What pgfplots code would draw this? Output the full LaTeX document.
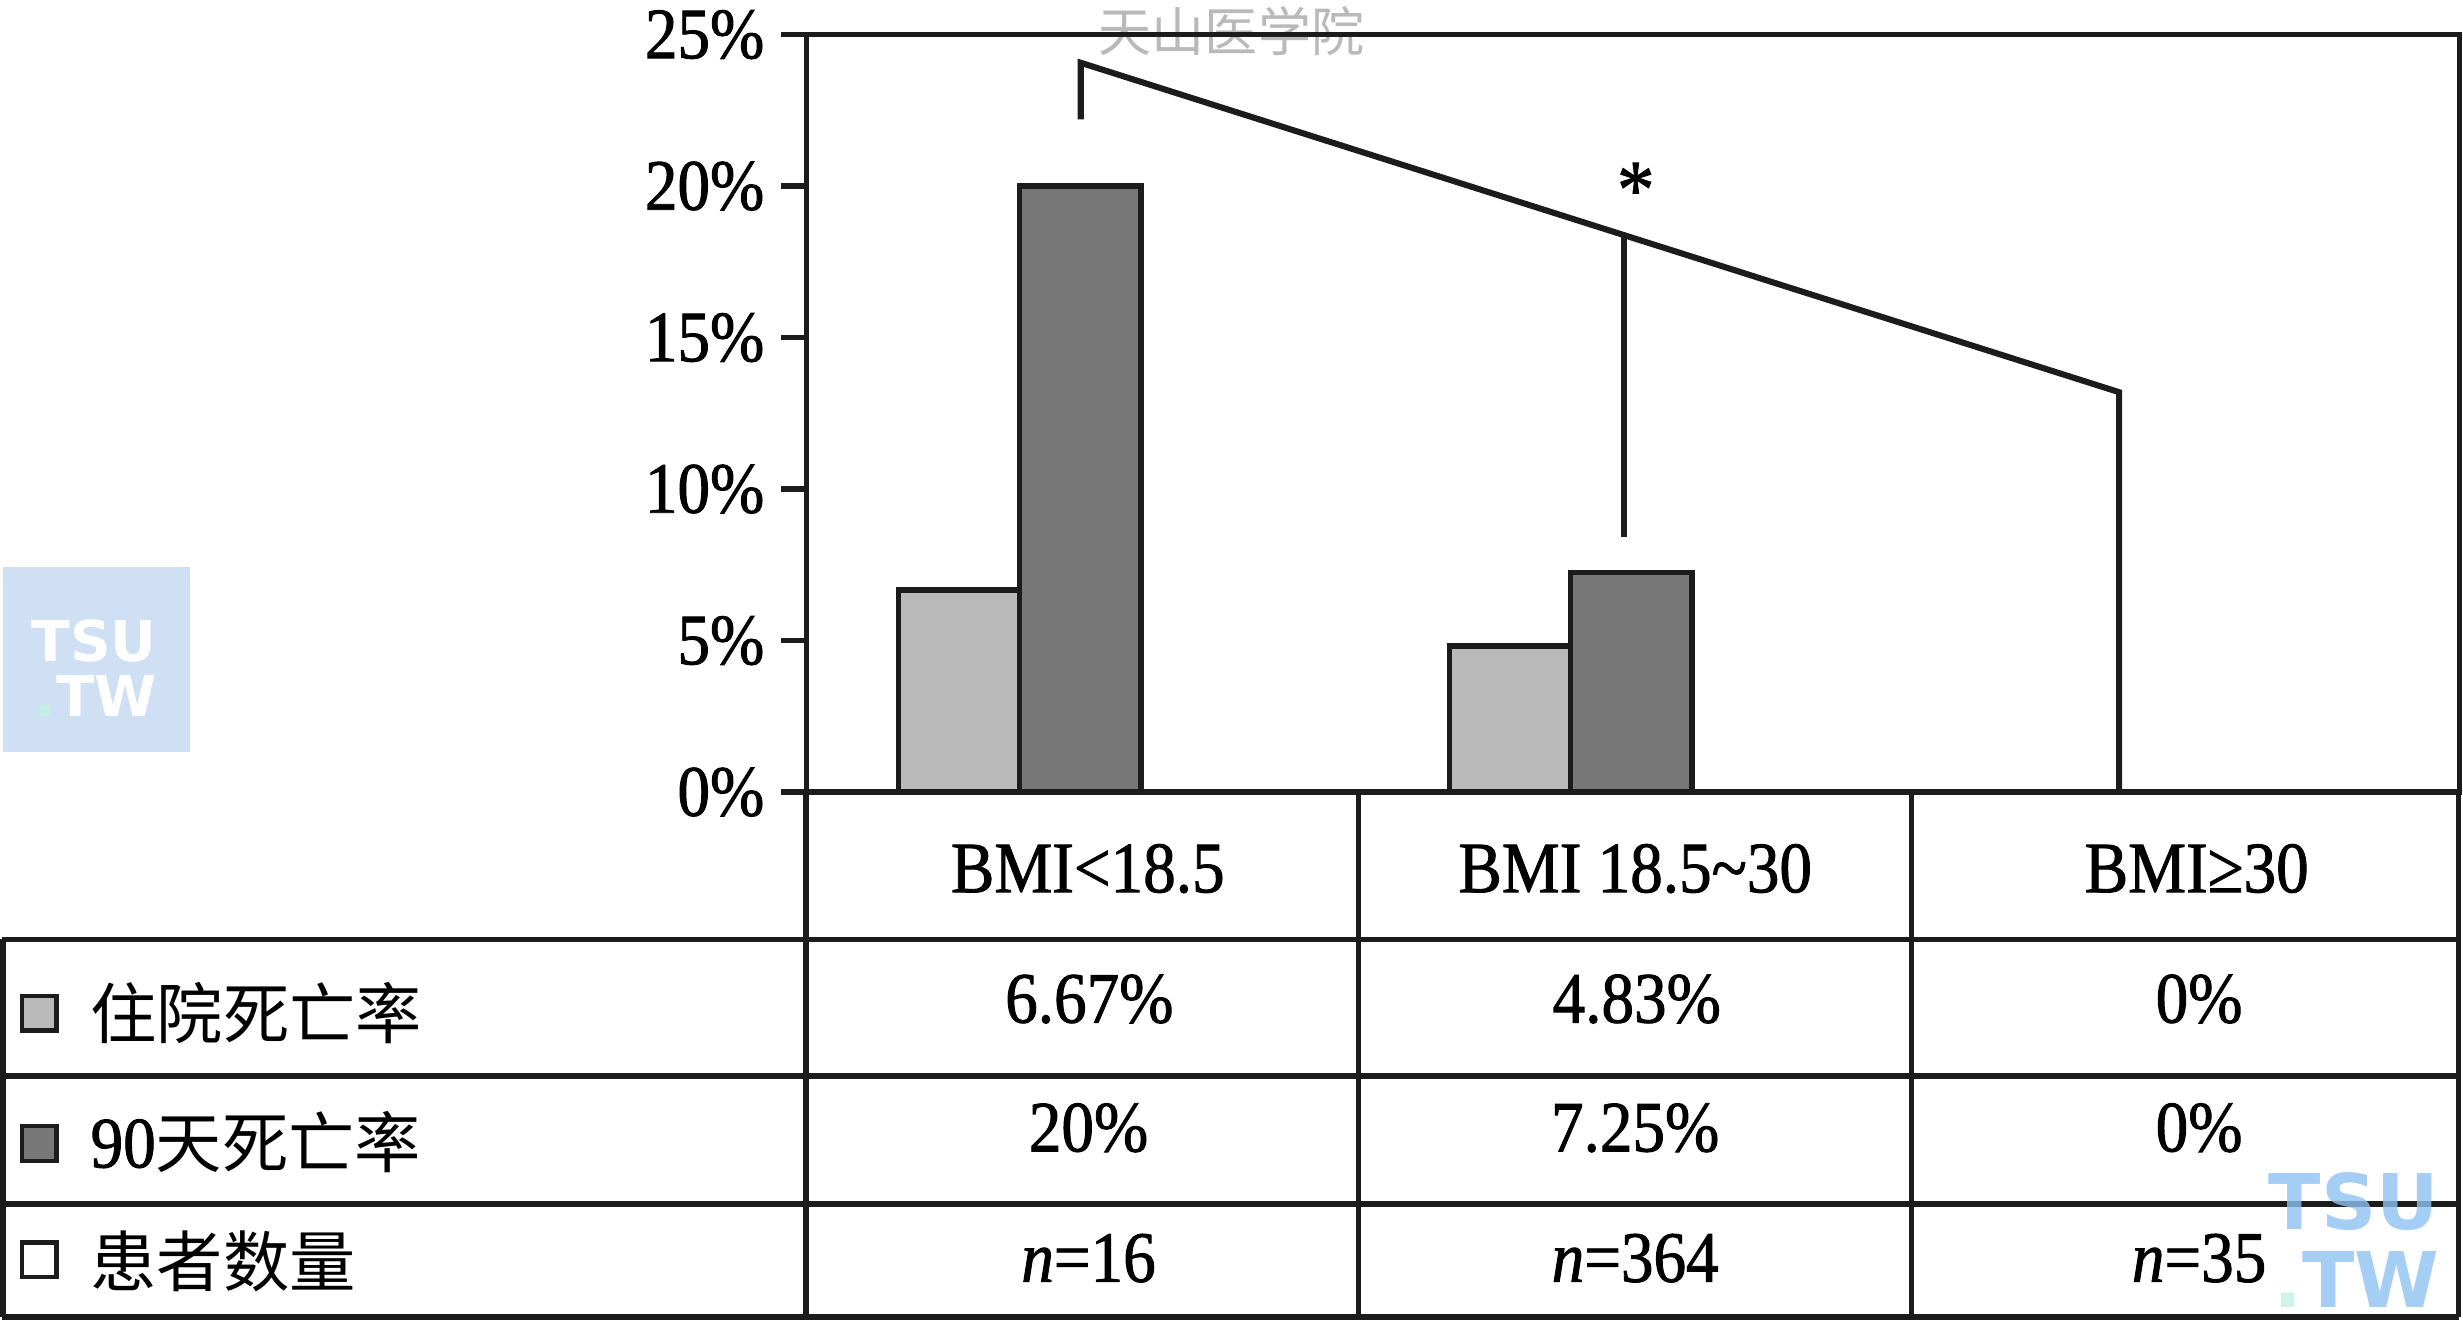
\documentclass[border=0pt]{standalone}
\usepackage{pgfplots}
\pgfplotsset{compat=1.18}
\usepackage{fontspec}
\setmainfont{Liberation Serif}[FakeStretch=0.9, FakeBold=1.2]
\newfontfamily\cjk{Noto Sans CJK SC}
\newfontfamily\logofont{DejaVu Sans}
\definecolor{lightbar}{HTML}{BABABA}
\definecolor{darkbar}{HTML}{787878}
\definecolor{ln}{HTML}{1C1C1C}
\definecolor{logobg}{HTML}{CFE0F5}
\definecolor{logoblue}{HTML}{8EC2F2}
\definecolor{logodot}{HTML}{C4F0E4}
\newcommand{\tf}{\fontsize{13.1}{15}\selectfont}
\newcommand{\cf}{\cjk\fontsize{12}{14}\selectfont}

\begin{document}
\begin{tikzpicture}[x=0.01cm, y=-0.01cm]
\useasboundingbox (0,0) rectangle (1568,841);
% left logo
\fill[logobg] (2,361) rectangle (121,479);
\node[font=\logofont\bfseries\fontsize{10.2}{12}\selectfont, text=white, inner sep=0] at (60,408) {TSU};
\node[font=\logofont\bfseries\fontsize{10.2}{12}\selectfont, text=white, inner sep=0] at (61,443) {{\color{logodot}.}TW};
% watermark
\node[font=\cjk\fontsize{9.6}{11}\selectfont, text=gray!55, inner sep=0] at (784,20) {天山医学院};

\begin{axis}[
  at={(5.13cm,-5.04cm)}, anchor=south west,
  scale only axis, width=10.52cm, height=4.82cm,
  xmin=0, xmax=3, ymin=0, ymax=25,
  axis line style={ln, line width=1pt},
  xtick=\empty,
  ytick={0,5,10,15,20,25},
  yticklabels={0\%,5\%,10\%,15\%,20\%,25\%},
  ytick pos=left,
  tick align=outside,
  major tick length=0.16cm,
  tick style={ln, line width=1pt},
  yticklabel style={font=\tf, inner sep=0pt, xshift=-0.1cm},
  clip=false, axis on top,
]
\addplot[ybar, bar width=0.22, bar shift=0pt, fill=lightbar, draw=ln, line width=1pt]
  coordinates {(0.277,6.67) (1.277,4.83) (2.277,0)};
\addplot[ybar, bar width=0.22, bar shift=0pt, fill=darkbar, draw=ln, line width=1pt]
  coordinates {(0.497,20) (1.497,7.25) (2.497,0)};
\draw[ln, line width=1.1pt] (axis cs:0.498,22.2) -- (axis cs:0.498,24.07) -- (axis cs:2.382,13.2) -- (axis cs:2.382,0);
\draw[ln, line width=1.1pt] (axis cs:1.483,18.39) -- (axis cs:1.483,8.41);
\node[font=\tf, anchor=north, inner sep=0pt] at (axis cs:1.505,20.8) {\fontsize{15}{15}\selectfont *};
\end{axis}

% table
\begin{scope}[ln, line width=1pt]
\draw (513,504) -- (513,838.5);
\draw (1565,504) -- (1565,838.5);
\draw (865,504) -- (865,838.5);
\draw (1217,504) -- (1217,838.5);
\draw (2,598) -- (2,838.5);
\draw (1.5,598) -- (1565.5,598);
\draw (1.5,685) -- (1565.5,685);
\draw (1.5,766.5) -- (1565.5,766.5);
\draw (1.5,838.5) -- (1565.5,838.5);
\end{scope}

\node[font=\tf, anchor=base, inner sep=0] at (692.5,568) {BMI\textless18.5};
\node[font=\tf, anchor=base, inner sep=0] at (1041,568) {BMI 18.5\textasciitilde30};
\node[font=\tf, anchor=base, inner sep=0] at (1398.5,568) {BMI≥30};

\node[font=\tf, anchor=base, inner sep=0] at (693.5,651) {6.67\%};
\node[font=\tf, anchor=base, inner sep=0] at (1042,651) {4.83\%};
\node[font=\tf, anchor=base, inner sep=0] at (1400,651) {0\%};

\node[font=\tf, anchor=base, inner sep=0] at (693,733) {20\%};
\node[font=\tf, anchor=base, inner sep=0] at (1041,733) {7.25\%};
\node[font=\tf, anchor=base, inner sep=0] at (1400,733) {0\%};

\node[font=\tf, anchor=base, inner sep=0] at (693,816) {\textit{n}=16};
\node[font=\tf, anchor=base, inner sep=0] at (1041,816) {\textit{n}=364};
\node[font=\tf, anchor=base, inner sep=0] at (1400,816) {\textit{n}=35};

% row labels with legend squares
\draw[ln, line width=0.8pt, fill=lightbar] (14,634) rectangle (36,656);
\draw[ln, line width=0.8pt, fill=darkbar] (14,717) rectangle (36,739);
\draw[ln, line width=0.8pt, fill=white] (14,791) rectangle (36,813);
\node[font=\cf, anchor=west, inner sep=0] at (57,645) {住院死亡率};
\node[font=\cf, anchor=west, inner sep=0] at (57,727) {{\rmfamily\tf 90}天死亡率};
\node[font=\cf, anchor=west, inner sep=0] at (57,803) {患者数量};

% right logo
\node[font=\logofont\bfseries\fontsize{13.9}{16}\selectfont, text=logoblue, inner sep=0, opacity=0.8] at (1498.5,765) {TSU};
\node[font=\logofont\bfseries\fontsize{13.9}{16}\selectfont, text=logoblue, inner sep=0, opacity=0.8] at (1500,814.5) {{\color{logodot}.}TW};
\end{tikzpicture}
\end{document}
